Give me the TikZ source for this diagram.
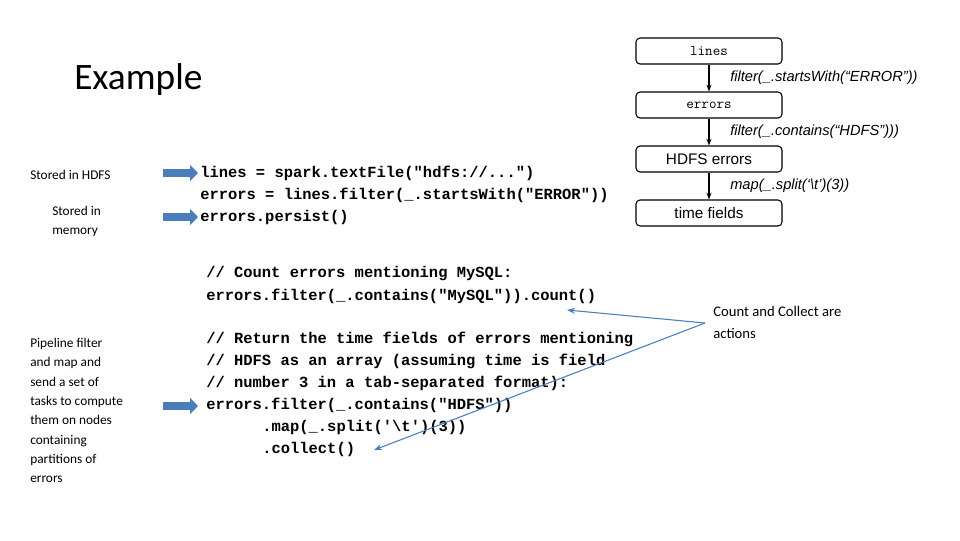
\documentclass[tikz,border=0pt]{standalone}
\usepackage{fontspec}
\setmainfont{Carlito}
\newfontfamily\codefont{Liberation Mono}
\newfontfamily\diagfont{Liberation Sans}
\usetikzlibrary{arrows.meta}
\definecolor{arrblue}{RGB}{74,126,187}
\begin{document}
\begin{tikzpicture}[x=0.75pt,y=-0.75pt,
  code/.style={anchor=west,inner sep=0,font=\codefont\bfseries\fontsize{11.6}{13}\selectfont},
  lbl/.style={anchor=west,inner sep=0,font=\fontsize{10}{14.3}\selectfont,align=left},
  rdd/.style={draw,rounded corners=3pt,minimum width=109.5pt,minimum height=19.5pt,inner sep=0,line width=0.8pt,fill=white},
  flab/.style={anchor=west,inner sep=0,font=\diagfont\itshape\fontsize{11}{13}\selectfont},
  fat/.style={arrblue,line width=6pt,-{Triangle[length=6pt,width=12pt]}},
  thin/.style={arrblue,line width=0.8pt,-{Stealth[length=6pt]}}]
\useasboundingbox (0,0) rectangle (960,540);
\node[anchor=west,inner sep=0,font=\fontsize{28}{30}\selectfont] (title) at (74,80) {Example};
% diagram
\node[rdd,font=\ttfamily\fontsize{11}{13}\selectfont] (b1) at (709,51) {lines};
\node[rdd,font=\ttfamily\fontsize{11}{13}\selectfont] (b2) at (709,105) {errors};
\node[rdd,font=\diagfont\fontsize{11.5}{13}\selectfont] (b3) at (709,159) {HDFS errors};
\node[rdd,font=\diagfont\fontsize{11.5}{13}\selectfont] (b4) at (709,213) {time fields};
\draw[-{Stealth[length=5pt]},line width=0.9pt] (b1) -- (b2);
\draw[-{Stealth[length=5pt]},line width=0.9pt] (b2) -- (b3);
\draw[-{Stealth[length=5pt]},line width=0.9pt] (b3) -- (b4);
\node[flab] (f1) at (730,78) {filter(\_.startsWith(“ERROR”))};
\node[flab] (f2) at (730,132) {filter(\_.contains(“HDFS”)))};
\node[flab] (f3) at (730,186) {map(\_.split(‘\textbackslash t’)(3))};
% code
\node[code] (c1) at (200,173) {lines = spark.textFile("hdfs://...")};
\node[code] (c2) at (200,195) {errors = lines.filter(\_.startsWith("ERROR"))};
\node[code] (c3) at (200,217) {errors.persist()};
\node[code] (c4) at (206,274) {// Count errors mentioning MySQL:};
\node[code] (c5) at (206,296) {errors.filter(\_.contains("MySQL")).count()};
\node[code] (c6) at (206,339) {// Return the time fields of errors mentioning};
\node[code] (c7) at (206,361) {// HDFS as an array (assuming time is field};
\node[code] (c8) at (206,383) {// number 3 in a tab-separated format):};
\node[code] (c9) at (206,405) {errors.filter(\_.contains("HDFS"))};
\node[code] (c10) at (262,427) {.map(\_.split('\textbackslash t')(3))};
\node[code] (c11) at (262,449) {.collect()};
% left labels
\node[lbl] (l1) at (30,175) {Stored in HDFS};
\node[lbl,anchor=north west] (l2) at (52,206) {Stored in\\memory};
\node[lbl,anchor=north west,font=\fontsize{10}{14.5}\selectfont] (l3) at (30,338) {Pipeline filter\\and map and\\send a set of\\tasks to compute\\them on nodes\\containing\\partitions of\\errors};
\node[lbl,anchor=north west,font=\fontsize{11}{16.5}\selectfont] (l4) at (713,306) {Count and Collect are\\actions};
\coordinate (a1s) at (163,173); \coordinate (a1e) at (198,173);
\coordinate (a2s) at (163,217); \coordinate (a2e) at (198,217);
\coordinate (a3s) at (163,406); \coordinate (a3e) at (198,406);
\draw[fat] (a1s) -- (a1e);
\draw[fat] (a2s) -- (a2e);
\draw[fat] (a3s) -- (a3e);
\coordinate (src) at (705,323);
\coordinate (t1) at (567,310);
\coordinate (t2) at (374,450);
\draw[thin] (src) -- (t1);
\draw[thin] (src) -- (t2);
\end{tikzpicture}
\end{document}
